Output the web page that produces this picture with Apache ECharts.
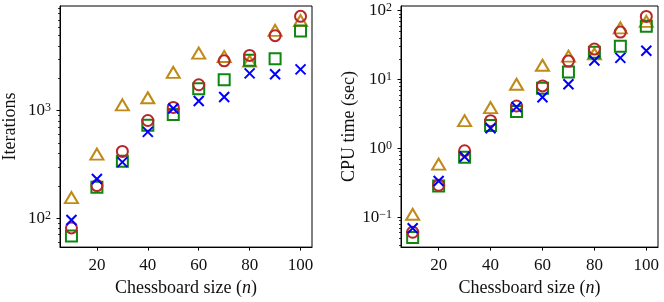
<!DOCTYPE html>
<html>
<head>
<meta charset="utf-8">
<script src="https://cdn.jsdelivr.net/npm/echarts@6/dist/echarts.min.js"></script>
<style>html,body{margin:0;padding:0;background:#fff}#c{width:664px;height:302px}</style>
</head>
<body>
<div id="c"></div>
<script>
// ---- data ----
const sizes = [10, 20, 30, 40, 50, 60, 70, 80, 90, 100];

const iterTriangle = [155, 394, 1134, 1321, 2276, 3436, 3200, 2900, 5600, 6900];
const iterCircle   = [81, 201, 418, 811, 1072, 1745, 2911, 3273, 5000, 7568];
const iterSquare   = [68, 194, 339, 731, 920, 1604, 1938, 2950, 3054, 5520];
const iterCross    = [96, 231, 332, 635, 1050, 1233, 1341, 2228, 2183, 2427];

const cpuTriangle = [0.111, 0.593, 2.53, 3.91, 8.55, 16.1, 21.8, 23.6, 56.2, 69.8];
const cpuCircle   = [0.061, 0.293, 0.927, 2.53, 4.13, 8.09, 18.5, 27.7, 48.8, 82.2];
const cpuSquare   = [0.0513, 0.286, 0.745, 2.15, 3.43, 7.5, 12.9, 24.9, 30.3, 59.3];
const cpuCross    = [0.0697, 0.337, 0.76, 1.97, 4.0, 5.53, 8.55, 18.9, 20.6, 26.2];

const xTicks = [20, 40, 60, 80, 100];
const iterMajor = [100, 1000];
const iterMinor = [60, 70, 80, 90, 200, 300, 400, 500, 600, 700, 800, 900, 2000, 3000, 4000, 5000, 6000, 7000, 8000, 9000];
const cpuMajor = [0.1, 1, 10, 100];
const cpuMinor = [0.04, 0.05, 0.06, 0.07, 0.08, 0.09, 0.2, 0.3, 0.4, 0.5, 0.6, 0.7, 0.8, 0.9, 2, 3, 4, 5, 6, 7, 8, 9, 20, 30, 40, 50, 60, 70, 80, 90];

// ---- style ----
const FONT = 'Liberation Serif';
const TXT = '#111';
const COL = { tri: '#bf8a16', circ: '#b82628', sq: '#0f870f', cross: '#0000ff' };

function supFmt(v) {
  const e = Math.round(Math.log10(v));
  return '10{s|' + (e < 0 ? '\u2212' + (-e) : e) + '}';
}

function xAxisDef(grid) {
  return {
    type: 'value', gridIndex: grid, min: 5.5, max: 104.5,
    name: 'Chessboard size ({i|n})', nameLocation: 'middle', nameGap: 30,
    nameTextStyle: { fontFamily: FONT, fontSize: 18, color: TXT,
      rich: { i: { fontFamily: FONT, fontSize: 18, fontStyle: 'italic', color: TXT } } },
    axisLine: { show: true, lineStyle: { color: '#000', width: 1 } },
    axisTick: { show: true, length: 3.5, lineStyle: { color: '#000', width: 1 }, customValues: xTicks },
    axisLabel: { fontFamily: FONT, fontSize: 17, color: TXT, margin: 10, customValues: xTicks },
    splitLine: { show: false }
  };
}

function yAxisMain(grid, name, min, max, major, gap) {
  return {
    type: 'log', gridIndex: grid, min: min, max: max, position: 'left',
    name: name, nameLocation: 'middle', nameGap: gap,
    nameTextStyle: { fontFamily: FONT, fontSize: 18, color: TXT },
    axisLine: { show: true, lineStyle: { color: '#000', width: 1 } },
    axisTick: { show: true, length: 3.5, lineStyle: { color: '#000', width: 1 }, customValues: major },
    axisLabel: { fontFamily: FONT, fontSize: 17, color: TXT, margin: 9, lineHeight: 17,
      customValues: major, formatter: supFmt,
      rich: { s: { fontFamily: FONT, fontSize: 12, color: TXT, verticalAlign: 'top', lineHeight: 12 } } },
    splitLine: { show: false }, minorTick: { show: false }
  };
}

function yAxisMinor(grid, min, max, minor) {
  return {
    type: 'log', gridIndex: grid, min: min, max: max, position: 'left',
    axisLine: { show: false },
    axisTick: { show: true, length: 2, lineStyle: { color: '#000', width: 0.8 }, customValues: minor },
    axisLabel: { show: false },
    splitLine: { show: false }
  };
}

const crossPath = 'path://M0,0L10,10M10,0L0,10';

function mk(xi, yi, vals, symbol, color, size) {
  return {
    type: 'scatter', xAxisIndex: xi, yAxisIndex: yi,
    data: sizes.map((x, i) => [x, vals[i]]),
    symbol: symbol, symbolSize: size,
    itemStyle: { color: 'rgba(0,0,0,0)', borderColor: color, borderWidth: 2, opacity: 1 },
    emphasis: { disabled: true }, silent: true, animation: false
  };
}

const chart = echarts.init(document.getElementById('c'), null, { renderer: 'canvas' });
chart.setOption({
  animation: false,
  backgroundColor: '#fff',
  grid: [
    { left: 55, right: 352, top: 6, bottom: 49, show: true, borderColor: '#000', borderWidth: 1, backgroundColor: 'transparent' },
    { left: 401, right: 6, top: 6, bottom: 49, show: true, borderColor: '#000', borderWidth: 1, backgroundColor: 'transparent' }
  ],
  xAxis: [xAxisDef(0), xAxisDef(1)],
  yAxis: [
    yAxisMain(0, 'Iterations', 53.7, 9441, iterMajor, 41),
    yAxisMinor(0, 53.7, 9441, iterMinor),
    yAxisMain(1, 'CPU time (sec)', 0.0371, 116.6, cpuMajor, 37),
    yAxisMinor(1, 0.0371, 116.6, cpuMinor)
  ],
  series: [
    mk(0, 0, iterTriangle, 'triangle', COL.tri, [13, 11]),
    mk(0, 0, iterSquare, 'rect', COL.sq, 11),
    mk(0, 0, iterCircle, 'circle', COL.circ, 11),
    mk(0, 0, iterCross, crossPath, COL.cross, 10),
    mk(1, 2, cpuTriangle, 'triangle', COL.tri, [13, 11]),
    mk(1, 2, cpuSquare, 'rect', COL.sq, 11),
    mk(1, 2, cpuCircle, 'circle', COL.circ, 11),
    mk(1, 2, cpuCross, crossPath, COL.cross, 10)
  ]
});
</script>
</body>
</html>
